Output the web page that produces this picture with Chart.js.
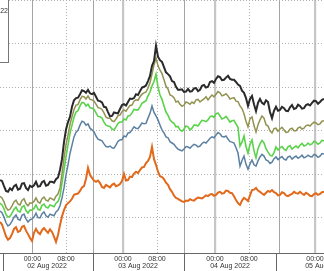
<!DOCTYPE html>
<html>
<head>
<meta charset="utf-8">
<script src="https://cdn.jsdelivr.net/npm/chart.js@4.4.0/dist/chart.umd.min.js"></script>
<style>
html, body { margin: 0; padding: 0; background: #fff; overflow: hidden; }
#wrap { width: 324px; height: 271px; position: relative; }
</style>
</head>
<body>
<div id="wrap"><canvas id="chart1"></canvas></div>
<script>
// one value per bar, left to right (gridlines every 10)
var darkLine = [8.7, 8.5, 7.3, 6.2, 6.0, 6.8, 6.4, 7.3, 7.6, 6.5, 6.7, 7.9, 8.0, 6.9, 6.4, 7.4, 7.1, 7.5, 8.3, 7.2, 7.3, 8.2, 8.5, 7.4, 7.6, 8.3, 8.3, 8.1, 8.9, 9.3, 11.0, 13.5,
    17.4, 20.3, 22.0, 23.2, 25.5, 27.0, 27.5, 27.6, 28.4, 29.3, 29.1, 28.7, 29.4, 28.6, 28.4, 28.7, 27.8, 26.9, 26.8, 26.5, 25.5, 25.4, 24.3, 23.3, 23.4, 24.2, 24.1, 24.0, 25.0, 25.9, 26.1, 25.8,
    26.6, 27.4, 27.3, 27.5, 28.4, 28.2, 29.1, 29.9, 30.1, 30.4, 31.4, 32.6, 34.9, 36.0, 39.5, 37.0, 36.2, 35.8, 34.6, 33.4, 33.0, 32.5, 31.4, 31.2, 30.1, 29.4, 29.4, 29.5, 28.9, 29.0, 29.6, 29.0,
    29.1, 29.7, 29.8, 29.1, 29.4, 30.3, 30.5, 29.9, 30.1, 31.2, 31.4, 31.0, 31.9, 32.5, 32.3, 31.6, 31.7, 32.2, 32.6, 31.9, 31.7, 31.7, 31.2, 30.6, 30.3, 29.2, 28.7, 27.5, 25.7, 27.3, 28.0, 26.1,
    24.5, 26.4, 27.3, 26.4, 26.1, 27.0, 26.6, 24.3, 22.9, 24.6, 25.5, 24.6, 24.8, 25.5, 25.2, 24.6, 24.5, 25.4, 25.9, 25.0, 25.2, 26.0, 25.7, 25.1, 25.2, 25.9, 26.1, 25.8, 26.4, 26.9, 26.8, 26.2,
    26.6, 27.1, 27.3];
var oliveLine = [5.0, 4.6, 3.7, 2.4, 1.8, 2.0, 2.8, 3.7, 4.1, 3.2, 3.0, 4.0, 4.4, 3.3, 2.8, 3.5, 3.4, 3.8, 4.6, 3.7, 3.4, 4.4, 4.8, 4.1, 3.9, 4.6, 4.4, 4.1, 5.0, 5.5, 6.9, 10.2,
    13.8, 16.8, 19.0, 21.5, 23.2, 24.9, 25.9, 26.0, 27.1, 27.9, 27.8, 27.3, 28.0, 27.2, 27.1, 26.8, 26.1, 25.3, 25.2, 24.9, 24.1, 23.1, 22.9, 22.9, 22.3, 22.1, 22.7, 23.5, 23.6, 24.4, 24.8, 24.5,
    25.2, 25.8, 25.9, 26.8, 27.1, 27.0, 27.8, 28.4, 28.7, 28.9, 29.8, 31.0, 33.0, 35.1, 36.7, 34.9, 33.9, 33.1, 31.7, 30.2, 29.6, 28.2, 28.0, 27.6, 26.6, 26.8, 26.1, 25.6, 25.9, 26.6, 26.4, 26.1,
    26.6, 26.3, 27.1, 27.2, 26.6, 27.0, 27.3, 27.8, 27.1, 27.7, 28.2, 27.8, 28.4, 29.0, 28.7, 28.0, 28.2, 28.5, 28.0, 27.3, 27.5, 27.6, 26.8, 26.7, 25.7, 25.1, 23.9, 22.2, 20.9, 22.8, 23.2, 21.2,
    19.7, 21.4, 22.5, 23.4, 22.9, 21.4, 21.1, 20.0, 19.5, 20.5, 20.6, 19.9, 20.4, 20.8, 20.2, 19.6, 19.7, 20.4, 20.6, 20.0, 20.0, 20.6, 20.9, 20.4, 20.6, 21.2, 21.3, 21.1, 21.6, 22.0, 21.8, 21.4,
    21.6, 22.2, 22.3];
var greenLine = [3.4, 3.0, 2.1, 0.8, 0.2, 0.4, 1.1, 2.0, 2.5, 1.6, 1.4, 2.5, 2.8, 1.7, 1.1, 1.8, 1.8, 2.2, 3.0, 2.0, 1.8, 2.9, 3.2, 2.5, 2.3, 3.0, 2.8, 2.6, 3.4, 3.8, 5.0, 8.0,
    11.0, 14.1, 16.7, 19.4, 21.3, 23.1, 24.3, 24.6, 25.7, 26.5, 26.4, 25.7, 26.1, 25.3, 25.2, 24.9, 24.1, 23.3, 23.2, 22.9, 22.0, 21.3, 21.1, 21.0, 20.4, 20.2, 20.9, 21.7, 22.0, 22.0, 22.7, 22.5,
    23.4, 23.5, 24.1, 24.9, 24.8, 24.8, 25.5, 26.3, 26.6, 26.9, 28.0, 28.9, 30.3, 31.3, 33.0, 30.0, 28.2, 27.2, 25.7, 24.3, 23.6, 22.5, 22.0, 21.7, 20.9, 21.0, 20.2, 19.9, 20.4, 21.1, 20.9, 20.2,
    20.6, 21.3, 21.3, 21.1, 21.8, 22.4, 22.3, 22.1, 22.5, 23.2, 23.4, 23.1, 23.9, 24.1, 23.4, 22.7, 22.9, 23.3, 22.7, 22.0, 22.3, 22.4, 21.6, 20.8, 16.5, 17.4, 18.8, 16.4, 14.9, 16.9, 17.9, 15.4,
    13.8, 15.9, 17.0, 17.8, 17.2, 15.9, 15.1, 14.4, 14.2, 15.0, 16.3, 15.6, 16.1, 16.4, 15.8, 15.5, 16.3, 16.6, 15.8, 16.2, 16.5, 16.1, 16.7, 17.1, 16.5, 16.7, 17.2, 16.8, 17.0, 17.6, 17.4, 16.9,
    17.2, 17.8, 17.7];
var blueLine = [1.6, 1.2, 0.2, -1.1, -1.8, -1.5, -0.7, 0.2, 0.7, -0.3, -0.5, 0.6, 0.9, -0.2, -0.9, -0.4, -0.2, 0.2, 1.1, 0.1, 0.0, 1.0, 1.4, 0.5, 0.2, 0.9, 0.7, 0.5, 1.4, 1.8, 2.8, 4.6,
    6.9, 9.9, 12.2, 14.8, 16.7, 18.6, 19.7, 20.1, 21.3, 22.2, 22.0, 21.3, 21.6, 20.6, 20.2, 19.8, 18.8, 18.1, 17.9, 17.7, 17.0, 16.4, 16.3, 16.5, 16.1, 16.0, 16.7, 17.6, 17.9, 18.0, 18.8, 18.6,
    19.5, 19.6, 20.2, 20.9, 20.6, 20.5, 21.1, 21.8, 21.6, 21.7, 22.9, 24.0, 25.7, 24.2, 23.4, 22.5, 21.3, 20.2, 19.5, 18.6, 18.4, 17.5, 17.2, 16.9, 16.3, 15.8, 15.6, 15.4, 15.8, 16.4, 16.3, 16.0,
    16.5, 16.9, 16.7, 16.3, 16.5, 17.1, 17.4, 17.2, 17.7, 18.3, 18.6, 18.4, 19.0, 19.6, 19.3, 18.7, 18.6, 18.8, 18.1, 17.5, 17.4, 17.2, 16.1, 14.9, 11.9, 13.2, 14.2, 12.3, 11.2, 12.4, 13.3, 12.2,
    11.9, 13.1, 14.0, 14.6, 14.2, 13.3, 13.1, 12.5, 12.8, 13.6, 14.0, 13.4, 13.8, 14.1, 13.5, 13.3, 14.0, 14.2, 13.5, 13.9, 14.2, 13.7, 14.0, 14.4, 13.8, 14.0, 14.4, 14.1, 14.0, 14.6, 14.4, 13.9,
    14.2, 14.8, 14.7];
var orangeLine = [-0.9, -1.5, -2.8, -4.2, -5.0, -4.6, -3.7, -2.5, -2.1, -3.2, -3.0, -2.0, -1.8, -2.9, -3.7, -4.6, -5.3, -3.4, -2.5, -3.3, -3.7, -2.8, -2.3, -2.9, -3.4, -2.6, -3.2, -4.3, -5.5, -3.9, -1.6, 0.4,
    1.8, 2.9, 3.4, 3.8, 4.4, 5.3, 5.5, 5.6, 6.2, 7.0, 7.3, 9.0, 11.5, 9.9, 9.2, 8.6, 8.3, 8.6, 8.0, 7.1, 6.9, 7.6, 7.3, 7.0, 7.6, 7.9, 7.3, 7.5, 7.8, 8.5, 10.1, 8.6,
    8.7, 9.5, 9.4, 10.2, 10.6, 10.3, 11.0, 11.6, 11.7, 12.6, 13.1, 14.0, 16.3, 13.5, 12.2, 10.6, 9.6, 9.4, 8.9, 8.1, 7.6, 6.6, 6.0, 5.1, 4.6, 4.4, 4.1, 3.8, 3.7, 4.0, 3.9, 4.3,
    4.1, 4.0, 4.4, 4.7, 4.6, 4.5, 4.8, 5.2, 5.0, 5.4, 5.5, 5.1, 5.3, 5.8, 6.0, 5.6, 5.7, 6.3, 6.2, 5.8, 5.7, 5.0, 4.1, 3.4, 3.0, 4.0, 4.6, 4.3, 3.9, 5.2, 6.4, 6.5,
    6.9, 6.3, 6.0, 5.6, 5.3, 5.8, 6.2, 6.0, 6.4, 5.9, 5.7, 5.2, 5.3, 5.9, 5.7, 5.2, 5.0, 5.3, 5.5, 6.0, 5.7, 5.6, 6.0, 5.6, 5.3, 5.8, 5.5, 5.1, 5.0, 5.5, 5.7, 5.3,
    5.5, 5.9, 6.0];

// axis positions, in bars
var midnightBars = [16.2, 61.5, 107.5, 157.5];
var morningBars = [33, 78.5, 124.5];
var dayEdgeBars = [1.5, 46.5, 92, 138];
var dateCenterBars = [23.5, 69, 115, 162.5];
var dateLabels = ['02 Aug 2022', '03 Aug 2022', '04 Aug 2022', '05 Aug 2022'];
var gridValues = [0, 10, 20, 30, 40, 50];

// thin dark verticals, then wide light ones
var thinLines = [midnightBars[0], 46.5, 92, 139.5];
var wideLines = midnightBars.slice(1);

function pts(arr) {
    return arr.map(function (v, i) { return { x: i, y: v }; });
}

var axisLabels = {
    id: 'axisLabels',
    afterDraw: function (chart) {
        var c = chart.ctx, xs = chart.scales.x, area = chart.chartArea;
        c.save();
        // day separators below the axis
        c.strokeStyle = '#666';
        c.lineWidth = 1;
        dayEdgeBars.forEach(function (b) {
            var px = Math.round(xs.getPixelForValue(b)) + 0.5;
            c.beginPath(); c.moveTo(px, area.bottom); c.lineTo(px, chart.height); c.stroke();
        });
        c.fillStyle = '#333';
        c.font = '7px "Liberation Sans", Arial, sans-serif';
        c.textAlign = 'center';
        c.textBaseline = 'middle';
        midnightBars.forEach(function (b) { c.fillText('00:00', xs.getPixelForValue(b), area.bottom + 6); });
        morningBars.forEach(function (b) { c.fillText('08:00', xs.getPixelForValue(b), area.bottom + 6); });
        dateLabels.forEach(function (t, i) { c.fillText(t, xs.getPixelForValue(dateCenterBars[i]), area.bottom + 13); });
        // legend box, mostly off the left edge
        c.fillStyle = '#fff';
        c.fillRect(-2, -2, 11, 65);
        c.strokeStyle = '#777';
        c.strokeRect(-2.5, -2.5, 11, 65);
        c.fillStyle = '#333';
        c.textAlign = 'right';
        c.fillText('2022', 8, 11);
        c.restore();
    }
};

var ctx = document.getElementById('chart1').getContext('2d');
var chart = new Chart(ctx, {
    type: 'line',
    data: {
        datasets: [
            { data: pts(darkLine), borderColor: '#2a2a2a', borderWidth: 2 },
            { data: pts(oliveLine), borderColor: '#929250', borderWidth: 1.5 },
            { data: pts(greenLine), borderColor: '#5ad24a', borderWidth: 1.6 },
            { data: pts(blueLine), borderColor: '#5c80a2', borderWidth: 1.5 },
            { data: pts(orangeLine), borderColor: '#e2691b', borderWidth: 2 }
        ]
    },
    options: {
        responsive: true,
        maintainAspectRatio: false,
        animation: false,
        layout: { padding: { left: 0, right: 0, top: 0, bottom: 18 } },
        elements: { point: { radius: 0 }, line: { tension: 0 } },
        plugins: { legend: { display: false }, tooltip: { enabled: false } },
        scales: {
            x: {
                type: 'linear', min: 0, max: 162,
                ticks: { display: false },
                grid: { color: '#b0b0b0', drawTicks: false },
                border: { display: false, dash: [1, 2] },
                afterBuildTicks: function (s) { s.ticks = morningBars.map(function (v) { return { value: v }; }); }
            },
            xs: {
                type: 'linear', position: 'bottom', min: 0, max: 162,
                ticks: { display: false },
                grid: {
                    drawTicks: false,
                    color: function (c) { return c.index < thinLines.length ? '#a4a4a4' : '#c6c6c6'; },
                    lineWidth: function (c) { return c.index < thinLines.length ? 1 : 2.2; }
                },
                border: { display: true, color: '#666' },
                afterBuildTicks: function (s) {
                    s.ticks = thinLines.concat(wideLines).map(function (v) { return { value: v }; });
                }
            },
            y: {
                min: -8.03, max: 50,
                ticks: { display: false },
                grid: { color: '#b0b0b0', drawTicks: false },
                border: { display: false, dash: [1, 2] },
                afterBuildTicks: function (s) { s.ticks = gridValues.map(function (v) { return { value: v }; }); }
            }
        }
    },
    plugins: [axisLabels]
});
</script>
</body>
</html>
